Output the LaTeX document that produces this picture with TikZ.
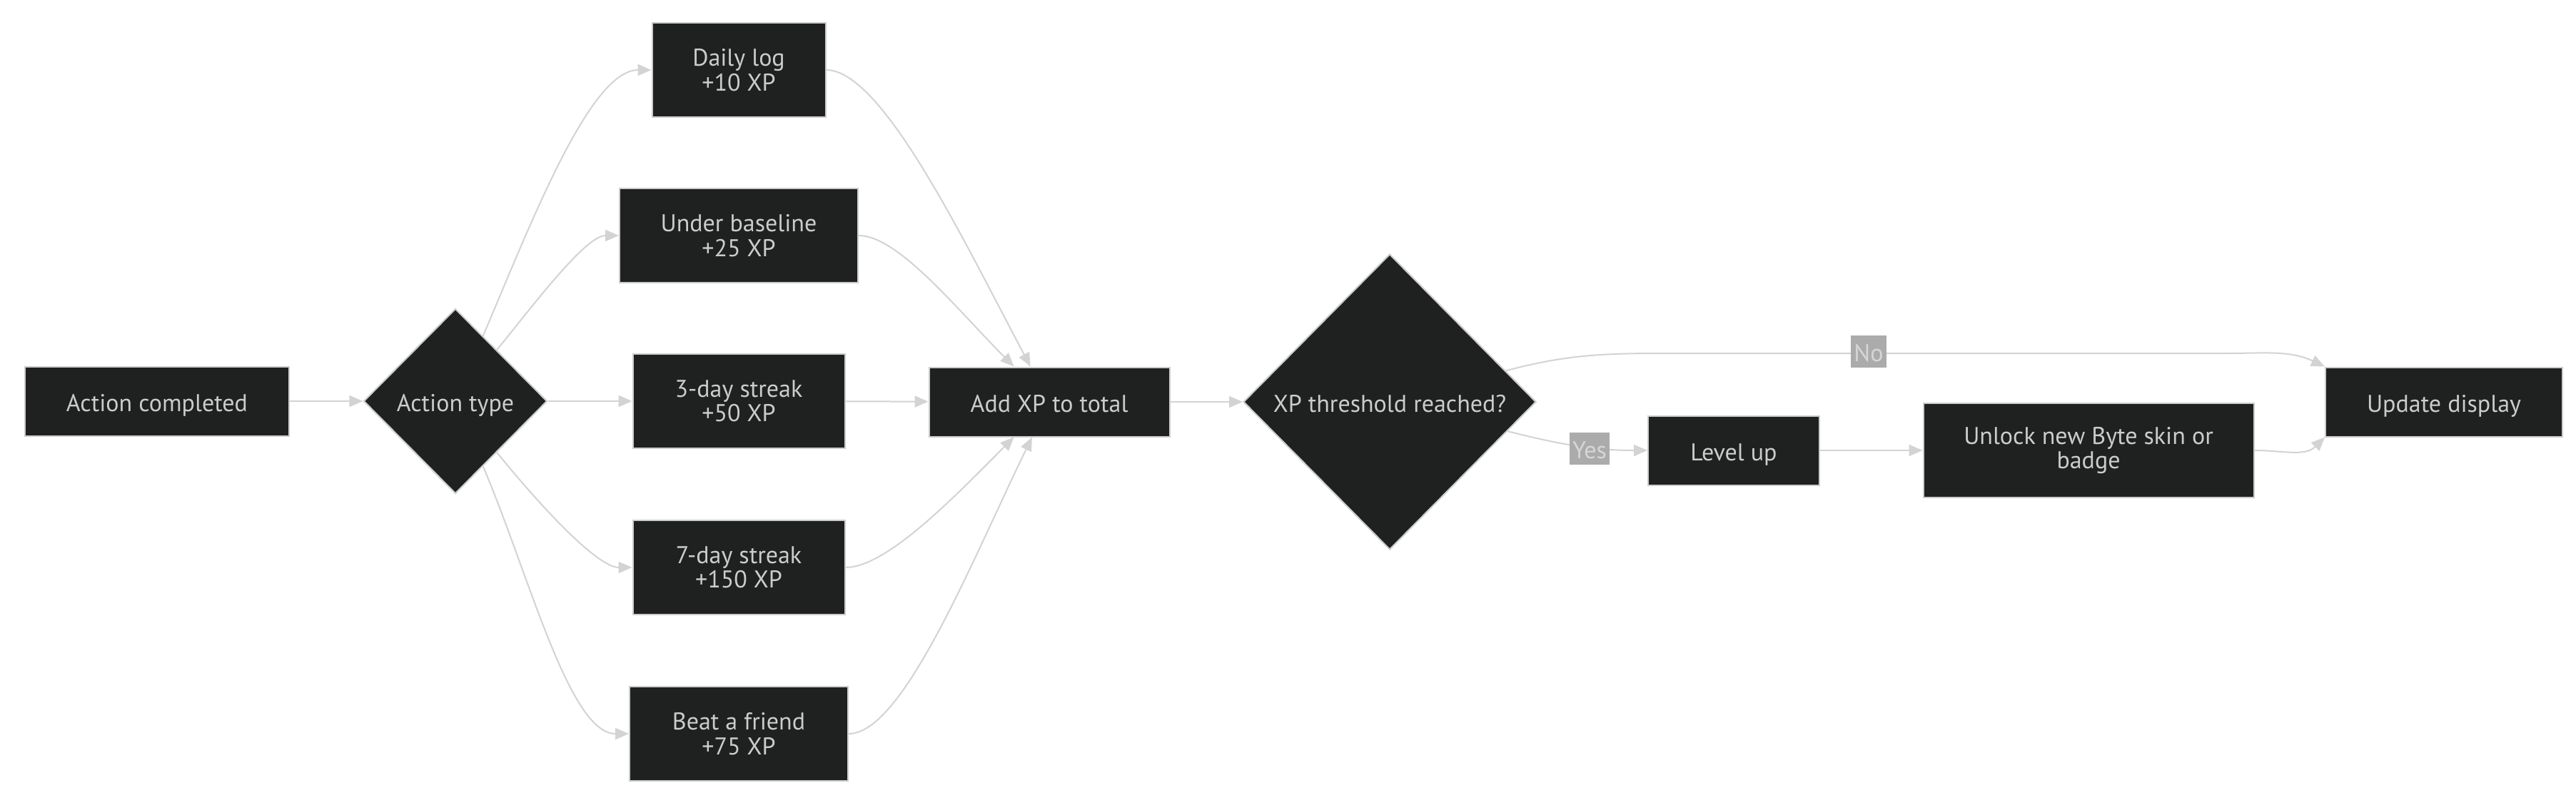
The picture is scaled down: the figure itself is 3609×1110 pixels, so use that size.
\documentclass[tikz,border=0pt]{standalone}
\usepackage{fontspec}
\setmainfont{PT Sans}
\usetikzlibrary{shapes.geometric,arrows.meta}

\definecolor{nodefill}{HTML}{1F2020}
\definecolor{nodeline}{HTML}{CCCCCC}
\definecolor{edgeline}{HTML}{D3D3D3}
\definecolor{lblfill}{HTML}{ABABAB}
\definecolor{lbltext}{HTML}{D6D6D6}

\tikzset{
	flowfont/.style={font=\fontsize{17}{17.2}\selectfont},
	box/.style={flowfont, draw=nodeline, line width=1pt, fill=nodefill, text=nodeline,
		align=center, inner sep=0pt, minimum height=48.5pt},
	onebox/.style={box, text height=14.5pt, text depth=0pt},
	tallbox/.style={box, minimum height=66pt},
	choice/.style={flowfont, diamond, aspect=1, draw=nodeline, line width=1pt,
		fill=nodefill, text=nodeline, inner sep=0pt, text height=14pt, text depth=0pt},
	edge/.style={draw=edgeline, line width=1pt, -{Triangle[length=9.5pt,width=8pt]}},
	lbl/.style={flowfont, fill=lblfill, text=lbltext, inner xsep=2pt, inner ysep=0pt,
		minimum height=22.5pt, text height=14pt, text depth=0pt}
}

\begin{document}
\begin{tikzpicture}[x=0.5pt,y=0.5pt]
	\fill[white] (0,0) rectangle (3609,-1110);
	\useasboundingbox (0,0) rectangle (3609,-1110);

	% nodes
	\node[onebox, minimum width=185pt] (done) at (220,-562) {Action completed};
	\node[choice, minimum width=128.5pt, minimum height=129.5pt] (kind) at (638,-562) {Action type};
	\node[tallbox, minimum width=121.5pt] (daily) at (1035,-98) {Daily log\\+10 XP};
	\node[tallbox, minimum width=167pt] (under) at (1035,-330) {Under baseline\\+25 XP};
	\node[tallbox, minimum width=148.5pt] (three) at (1035,-562) {3-day streak\\+50 XP};
	\node[tallbox, minimum width=148.5pt] (seven) at (1035,-795) {7-day streak\\+150 XP};
	\node[tallbox, minimum width=153pt] (beat) at (1035,-1028) {Beat a friend\\+75 XP};
	\node[onebox, minimum width=168.5pt] (add) at (1470,-563) {Add XP to total};
	\node[choice, minimum width=205pt, minimum height=207pt] (thresh) at (1947,-563) {XP threshold reached?};
	\node[onebox, minimum width=120pt] (level) at (2429,-631) {Level up};
	\node[tallbox, minimum width=231.5pt] (unlock) at (2926,-631) {Unlock new Byte skin or\\badge};
	\node[onebox, minimum width=166pt] (update) at (3424,-563) {Update display};
	\coordinate (nobend) at (2350,-495);
	\coordinate (noturn) at (3120,-495);

	% edges
	\draw[edge] (done) -- (kind);
	\draw[edge] (kind) to[out=67,in=180,out looseness=1,in looseness=0.5] (daily);
	\draw[edge] (kind) to[out=51,in=180,out looseness=1,in looseness=0.5] (under);
	\draw[edge] (kind) -- (three);
	\draw[edge] (kind) to[out=-51,in=180,out looseness=1,in looseness=0.5] (seven);
	\draw[edge] (kind) to[out=-67,in=180,out looseness=1,in looseness=0.5] (beat);
	\draw[edge] (daily) to[out=0,in=118,out looseness=0.4,in looseness=1] (add);
	\draw[edge] (under) to[out=0,in=135,out looseness=0.5,in looseness=1] (add);
	\draw[edge] (three) -- (add);
	\draw[edge] (seven) to[out=0,in=-135,out looseness=0.5,in looseness=1] (add);
	\draw[edge] (beat) to[out=0,in=-116,out looseness=0.4,in looseness=1] (add);
	\draw[edge] (add) -- (thresh);
	\draw[edge] (thresh) to[out=15,in=180] (nobend) -- (noturn) to[out=0,in=155] (update.north west);
	\draw[edge] (thresh) to[out=-14,in=180] (level);
	\draw[edge] (level) -- (unlock);
	\draw[edge] (unlock) to[out=0,in=-135] (update.south west);

	% edge labels
	\node[lbl] (yes) at (2227,-628) {Yes};
	\node[lbl] (no) at (2618,-492) {No};
\end{tikzpicture}
\end{document}
